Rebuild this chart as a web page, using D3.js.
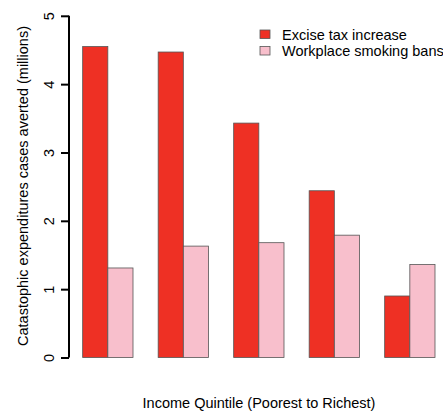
<!DOCTYPE html>
<html>
<head>
<meta charset="utf-8">
<script src="https://cdn.jsdelivr.net/npm/d3@7"></script>
<style>
  body { margin: 0; background: #fff; }
  text { font-family: "Liberation Sans", Arial, sans-serif; fill: #000; }
</style>
</head>
<body>
<div id="chart"></div>
<script>
// Data
const quintiles = ["Q1", "Q2", "Q3", "Q4", "Q5"];
const seriesNames = ["Excise tax increase", "Workplace smoking bans"];
const exciseTax = [4.55, 4.47, 3.43, 2.44, 0.90];
const smokingBans = [1.31, 1.63, 1.68, 1.79, 1.36];
const yTicks = [0, 1, 2, 3, 4, 5];
const colors = ["#EE3024", "#F8BFCC"];

const width = 443, height = 412;
const margin = { top: 16, right: 8, bottom: 54, left: 57.5 };
const fontSize = 14.5;

const svg = d3.select("#chart")
  .append("svg")
  .attr("width", width)
  .attr("height", height);

// y scale
const y = d3.scaleLinear()
  .domain([0, 5])
  .range([357.5, 15.8]);

// x: each group = 1 gap unit + 2 bars (R barplot space = c(0,1))
const unit = (width - margin.right - margin.left) / (quintiles.length * 3);
const groupX = (i) => margin.left + (1 + 3 * i) * unit;

const rows = quintiles.map((q, i) => ({ q, i, values: [exciseTax[i], smokingBans[i]] }));

const groups = svg.selectAll("g.group")
  .data(rows)
  .enter()
  .append("g")
  .attr("class", "group")
  .attr("transform", (d) => `translate(${groupX(d.i)},0)`);

groups.selectAll("rect")
  .data((d) => d.values)
  .enter()
  .append("rect")
  .attr("x", (d, j) => j * unit)
  .attr("y", (d) => y(d))
  .attr("width", unit)
  .attr("height", (d) => y(0) - y(d))
  .attr("fill", (d, j) => colors[j])
  .attr("stroke", "#555")
  .attr("stroke-width", 0.8);

// y axis, R style
const yAxis = svg.append("g")
  .attr("transform", `translate(69,0)`)
  .call(d3.axisLeft(y).tickValues(yTicks).tickSize(8).tickPadding(5).tickFormat(d3.format("d")));
yAxis.select(".domain").attr("stroke", "#000").attr("stroke-width", 2)
  .attr("d", `M0,${y(0)}V${y(5)}`);
yAxis.selectAll(".tick line").attr("stroke", "#000").attr("stroke-width", 2);
yAxis.selectAll(".tick text")
  .attr("font-size", fontSize)
  .attr("font-family", "Liberation Sans, Arial, sans-serif")
  .attr("text-anchor", "middle")
  .attr("x", 0)
  .attr("dy", 0)
  .attr("transform", "translate(-20,0) rotate(-90)")
  .attr("dominant-baseline", "central");

// axis titles
svg.append("text")
  .attr("x", 259)
  .attr("y", 408)
  .attr("text-anchor", "middle")
  .attr("font-size", fontSize)
  .text("Income Quintile (Poorest to Richest)");

svg.append("text")
  .attr("transform", `translate(28,${186}) rotate(-90)`)
  .attr("text-anchor", "middle")
  .attr("font-size", fontSize)
  .text("Catastophic expenditures cases averted (millions)");

// legend
const legend = svg.append("g")
  .attr("class", "legend")
  .attr("transform", "translate(260,30)");

const lg = legend.selectAll("g")
  .data(seriesNames)
  .enter()
  .append("g")
  .attr("transform", (d, i) => `translate(0,${i * 16.5})`);

lg.append("rect")
  .attr("width", 10)
  .attr("height", 8.5)
  .attr("fill", (d, i) => colors[i])
  .attr("stroke", "#555")
  .attr("stroke-width", 0.8);

lg.append("text")
  .attr("x", 22)
  .attr("y", 4.5)
  .attr("dominant-baseline", "central")
  .attr("font-size", fontSize)
  .text((d) => d);
</script>
</body>
</html>
